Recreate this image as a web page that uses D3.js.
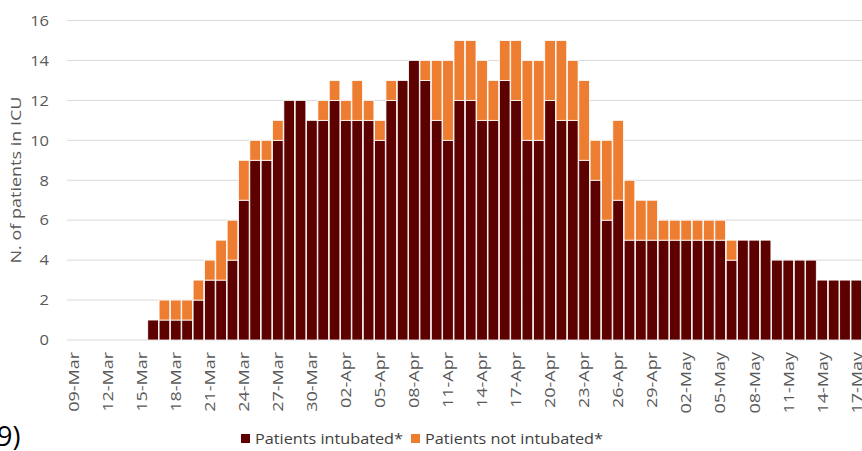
<!DOCTYPE html>
<html>
<head>
<meta charset="utf-8">
<script src="https://cdn.jsdelivr.net/npm/d3@7"></script>
<style>
  body { margin: 0; background: #fff; }
  text { font-family: "Open Sans", "Noto Sans", sans-serif; fill: #595959; }
</style>
</head>
<body>
<svg id="chart" width="862" height="451"></svg>
<script>
// days from 09-Mar to 17-May
const startDay = new Date(2020, 2, 9);
const nDays = 70;

// Patients intubated* per day
const intubated = [
  0, 0, 0, 0, 0, 0, 0,           // 09-15 Mar
  1, 1, 1, 1, 2, 3, 3, 4, 7, 9, 9, 10, 12, 12, 11, 11, // 16-31 Mar
  12, 11, 11, 11, 10, 12, 13, 14, 13, 11, 10, 12, 12, 11, 11, // 01-15 Apr
  13, 12, 10, 10, 12, 11, 11, 9, 8, 6, 7, 5, 5, 5, 5,          // 16-30 Apr
  5, 5, 5, 5, 5, 4, 5, 5, 5, 4, 4, 4, 4, 3, 3, 3, 3            // 01-17 May
];
// Patients not intubated* per day
const notIntubated = [
  0, 0, 0, 0, 0, 0, 0,
  0, 1, 1, 1, 1, 1, 2, 2, 2, 1, 1, 1, 0, 0, 0, 1,
  1, 1, 2, 1, 1, 1, 0, 0, 1, 3, 4, 3, 3, 3, 2,
  2, 3, 4, 4, 3, 4, 3, 4, 2, 4, 4, 3, 2, 2, 1,
  1, 1, 1, 1, 1, 1, 0, 0, 0, 0, 0, 0, 0, 0, 0, 0, 0
];
const yTicks = [0, 2, 4, 6, 8, 10, 12, 14, 16];
const seriesNames = ["Patients intubated*", "Patients not intubated*"];
const colors = ["#5c0000", "#ed7d31"];

const fmt = d3.timeFormat("%d-%b");
const days = d3.range(nDays).map(i => d3.timeDay.offset(startDay, i));
const labels = days.map(fmt);

const rows = labels.map((l, i) => ({ day: l, a: intubated[i], b: notIntubated[i] }));
const stacked = d3.stack().keys(["a", "b"])(rows);

const svg = d3.select("#chart");

const x = d3.scaleBand()
  .domain(labels)
  .range([68, 862])
  .paddingInner(0.06)
  .paddingOuter(0.03);

const y = d3.scaleLinear()
  .domain([0, 16])
  .range([340, 20.5]);

// gridlines
svg.append("g")
  .selectAll("line")
  .data(yTicks)
  .join("line")
  .attr("x1", 67)
  .attr("x2", 862)
  .attr("y1", d => y(d))
  .attr("y2", d => y(d))
  .attr("stroke", "#d9d9d9")
  .attr("stroke-width", 1);

// y tick labels
svg.append("g")
  .selectAll("text")
  .data(yTicks)
  .join("text")
  .attr("transform", d => `translate(49,${y(d)}) scale(1.1,1)`)
  .attr("dy", "0.35em")
  .attr("text-anchor", "end")
  .style("font-size", "15px")
  .text(d => d);

// y title (reference font is wider, so stretch along the text)
svg.append("text")
  .attr("transform", "translate(21,180) rotate(-90) scale(1.2,1)")
  .attr("text-anchor", "middle")
  .style("font-size", "15px")
  .text("N. of patients in ICU");

// bars
svg.append("g")
  .selectAll("g")
  .data(stacked)
  .join("g")
  .attr("fill", (d, i) => colors[i])
  .selectAll("rect")
  .data(d => d)
  .join("rect")
  .attr("x", d => x(d.data.day))
  .attr("width", x.bandwidth())
  .attr("y", d => y(d[1]))
  .attr("height", d => y(d[0]) - y(d[1]))
  .attr("stroke", "#fff")
  .attr("stroke-width", 0.8)
  .style("display", d => d[1] - d[0] > 0 ? null : "none");

// x labels every 3 days
const shown = labels.filter((l, i) => i % 3 === 0);
svg.append("g")
  .selectAll("text")
  .data(shown)
  .join("text")
  .attr("transform", d => `translate(${x(d) + x.bandwidth() / 2},352) rotate(-90) scale(1.2,1)`)
  .attr("text-anchor", "end")
  .attr("dy", "0.35em")
  .style("font-size", "15px")
  .text(d => d);

// legend
const legend = svg.append("g");
const legX = [241, 411];
const legW = [148, 178];
seriesNames.forEach((name, i) => {
  legend.append("rect")
    .attr("x", legX[i])
    .attr("y", 434)
    .attr("width", 9)
    .attr("height", 9)
    .attr("fill", colors[i]);
  legend.append("text")
    .attr("x", legX[i] + 14)
    .attr("y", 439)
    .attr("dy", "0.35em")
    .attr("textLength", legW[i])
    .attr("lengthAdjust", "spacingAndGlyphs")
    .style("font-size", "15px")
    .style("fill", "#404040")
    .text(name);
});

// leftover panel label
svg.append("text")
  .attr("x", -3)
  .attr("y", 446)
  .style("font-size", "27px")
  .style("fill", "#000")
  .text("9)");
</script>
</body>
</html>
